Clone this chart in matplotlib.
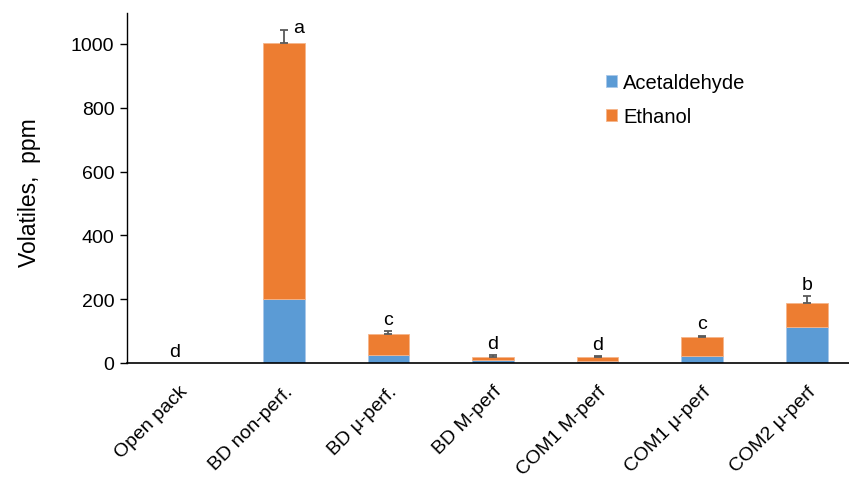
import numpy as np
import matplotlib.pyplot as plt

plt.rcParams['font.family'] = ['Liberation Sans', 'DejaVu Sans']

categories = ["Open pack", "BD non-perf.", "BD \u03bc-perf.", "BD M-perf",
              "COM1 M-perf", "COM1 \u03bc-perf", "COM2 \u03bc-perf"]
acetaldehyde = [0, 200, 25, 8, 6, 23, 114]
ethanol = [0, 802, 66, 11, 13, 58, 73]
errors = [0, 42, 10, 5, 2, 5, 22]
letters = ["d", "a", "c", "d", "d", "c", "b"]

fig = plt.figure(figsize=(8.49, 4.85), dpi=100)
ax = fig.add_axes([127/849, 121/485, 732/849, 350/485])

x = np.arange(len(categories))
acet = np.array(acetaldehyde)
eth = np.array(ethanol)
total = acet + eth

ax.bar(x, acet, width=0.4, color="#5B9BD5", edgecolor="#A9C8EA", linewidth=0.6,
       label="Acetaldehyde", zorder=2)
ax.bar(x, eth, bottom=acet, width=0.4, color="#ED7D31", edgecolor="#F5B58A",
       linewidth=0.6, label="Ethanol", zorder=2)

err = np.array(errors)
mask = err > 0
ax.errorbar(x[mask], total[mask], yerr=[np.zeros(mask.sum()), err[mask]],
            fmt="none", ecolor="#595959", elinewidth=1.3, capsize=3,
            capthick=1.3, zorder=3)

# significance letters above each bar
for i, lab in enumerate(letters):
    top = total[i] + err[i]
    if lab == "a":
        ax.text(x[i] + 0.14, 1053, lab, ha="center", va="center", fontsize=14)
    else:
        ax.text(x[i] - (0.04 if top == 0 else 0), top + 10, lab,
                ha="center", va="bottom", fontsize=14)

ax.set_xlim(-0.5, 6.5)
ax.set_ylim(0, 1097)
ax.set_yticks([0, 200, 400, 600, 800, 1000])
ax.set_xticks(x)
ax.set_xticklabels(categories, rotation=45, ha="right", rotation_mode="anchor",
                   fontsize=14)
ax.tick_params(axis="x", length=0, pad=14)
ax.tick_params(axis="y", length=5, width=1, labelsize=14, direction="out", pad=4)
ax.set_ylabel("Volatiles,  ppm", fontsize=16.5)
ax.yaxis.set_label_coords(-0.117, 0.49)

for s in ["top", "right"]:
    ax.spines[s].set_visible(False)
ax.spines["left"].set_linewidth(1)
ax.spines["bottom"].set_linewidth(1.2)

leg = fig.legend(loc="upper left", bbox_to_anchor=(598/849, 1 - 66/485),
                 frameon=False, fontsize=14.5, handlelength=0.55, handleheight=0.55,
                 handletextpad=0.3, labelspacing=0.75, borderaxespad=0)

fig.savefig("out.png", dpi=100)
